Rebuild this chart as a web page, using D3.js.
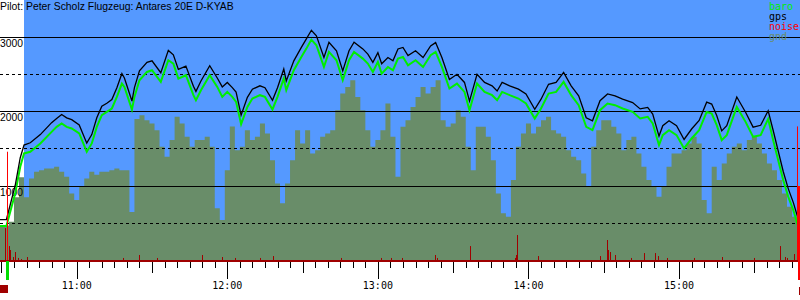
<!DOCTYPE html>
<html>
<head>
<meta charset="utf-8">
<script src="https://cdn.jsdelivr.net/npm/d3@7/dist/d3.min.js"></script>
<style>
  body { margin: 0; background: #fff; }
  svg { display: block; }
</style>
</head>
<body>
<div class="barogramm"></div>
<script>
var title = "Pilot: Peter Scholz Flugzeug: Antares 20E D-KYAB";
var legendNames = ["baro", "gps", "noise", "gnd"];
var hourLabels = ["11:00", "12:00", "13:00", "14:00", "15:00"];
var altLabels = ["1000", "2000", "3000"];
var dashedAlts = [500, 1500, 2500];

// barometric altitude (m)
var baroTime = ["10:29","10:32","10:35:30","10:37:30","10:39","10:41:30","10:45:30","10:50","10:52","10:54",
    "10:56","10:58","11:01","11:04","11:06","11:08","11:10","11:12","11:14","11:16",
    "11:18","11:19","11:22","11:23","11:25","11:28","11:30","11:33:30","11:36:30","11:38:30",
    "11:40:30","11:43:30","11:46:30","11:47:30","11:49:30","11:53","11:56","11:58","12:00","12:02",
    "12:03:30","12:05:30","12:08","12:10","12:13","12:15","12:18","12:20","12:22:30","12:23:30",
    "12:26:30","12:29:30","12:31:30","12:33:30","12:35:30","12:38:30","12:40:30","12:43:30","12:46","12:48:30",
    "12:50:30","12:54","12:56","12:58","13:00","13:01:30","13:04","13:06","13:08","13:10",
    "13:12","13:15","13:18","13:21","13:23","13:25:30","13:28:30","13:31:30","13:34:30","13:36:30",
    "13:39:30","13:42:30","13:45:30","13:47:30","13:49:30","13:52:30","13:56","13:59","14:02:30","14:05",
    "14:08","14:11","14:14","14:17","14:20","14:23","14:25:30","14:28:30","14:31:30","14:34:30",
    "14:37:30","14:41:30","14:44:30","14:47:30","14:49:30","14:52","14:53:30","14:56","14:59","15:02",
    "15:05","15:08","15:11","15:13","15:15","15:17","15:19","15:23","15:26:30","15:29:30",
    "15:32:30","15:35:30","15:37:30","15:39:30","15:41:30","15:43:30","15:45:30","15:47:30","15:48:30"];
var baroAlt = [463,463,901,1258,1437,1459,1571,1727,1794,1839,
    1794,1772,1705,1459,1571,1794,1951,1995,2040,2196,
    2375,2330,2027,2196,2420,2531,2554,2397,2688,2643,
    2442,2487,2219,2152,2286,2487,2330,2196,2263,2196,
    2129,1830,2062,2174,2219,2196,2027,2196,2442,2286,
    2554,2733,2844,2965,2889,2598,2800,2688,2420,2688,
    2800,2710,2643,2531,2666,2509,2598,2554,2710,2733,
    2621,2688,2598,2755,2800,2598,2308,2375,2263,2018,
    2375,2263,2219,2152,2263,2219,2174,2107,1906,2040,
    2241,2263,2397,2219,2085,1794,1750,2018,2107,2085,
    2040,1995,1906,1928,1839,1548,1683,1750,1683,1504,
    1638,1750,1995,1973,1817,1615,1683,2062,1861,1660,
    1683,1900,1615,1347,1079,856,677,454,454];

// gps altitude (m), same fixes
var gpsAlt = [550,550,1010,1380,1550,1580,1690,1850,1905,1960,
    1915,1890,1820,1575,1690,1915,2070,2110,2160,2320,
    2510,2450,2140,2320,2545,2660,2680,2520,2820,2760,
    2565,2610,2340,2270,2410,2615,2450,2330,2390,2320,
    2260,1950,2190,2300,2345,2320,2150,2320,2570,2410,
    2680,2860,2975,3090,3015,2725,2930,2815,2545,2815,
    2930,2840,2770,2660,2790,2640,2725,2680,2840,2860,
    2750,2815,2725,2880,2925,2725,2430,2500,2390,2140,
    2500,2390,2345,2275,2390,2345,2300,2235,2030,2165,
    2365,2390,2525,2345,2210,1915,1875,2145,2235,2210,
    2165,2120,2035,2055,1965,1670,1810,1875,1810,1625,
    1765,1880,2125,2100,1945,1740,1810,2195,1990,1790,
    1815,2010,1745,1470,1195,965,780,556,556];

// ground elevation (m), one value every 2 minutes from 10:29
var gndStart = "10:29";
var gndStep = 2;
var gndAlt = [470,470,520,850,1118,850,1100,1190,1210,1236,
    1236,1258,1190,1124,900,811,1000,1100,1191,1150,
    1191,1191,1213,1236,1213,1213,650,1900,1951,1884,
    1839,1750,1526,1392,1616,1928,1839,1660,1526,1616,
    1616,1660,1526,700,543,1213,1800,1481,1526,1750,
    1616,1660,1839,1705,1347,1035,767,1035,1347,1750,
    1571,1750,1437,1481,1660,1705,1750,2018,2241,2330,
    2420,2196,2018,1750,1526,1616,1750,2107,1660,1124,
    1794,1884,2062,2196,2330,2241,2330,2420,1884,1794,
    1839,2018,1928,1526,1213,1794,1794,1660,1347,901,
    633,588,1079,1526,1705,1839,1705,1794,1884,1928,
    1750,1705,1660,1481,1392,1347,1169,990,1526,1750,
    1884,1884,1794,1705,1481,1616,1660,1437,1258,1079,
    990,856,990,1258,1437,1437,1481,1571,1660,1571,
    811,633,1258,1079,1303,1437,1526,1571,1481,1616,
    1660,1571,1437,1303,1213,1079,901,722,588,498,470];

// engine noise level (same vertical units)
var noiseTime = ["10:31:26","10:33:02","10:33:37","10:34:37","10:35:25","10:36:37","10:37:48","10:40:12",
    "11:18:26","11:24:49","11:31:59","11:49:55","11:57:53","12:03:04","12:13:01","12:18:12",
    "12:45:17","13:01:13","13:05:12","13:09:35","13:22:44","13:23:31","13:36:40","13:54:35",
    "13:54:59","13:55:23","14:03:45","14:28:27","14:31:14","14:31:38","14:32:26","14:34:25",
    "14:40:48","14:45:59","14:50:22","14:51:34","14:55:09","15:05:54","15:17:03","15:29:48",
    "15:40:09","15:42:09","15:42:57","15:45:44"];
var noiseVal = [435,194,141,47,114,34,20,47,
    34,74,34,74,47,34,34,60,
    34,34,34,34,74,34,194,34,
    74,342,60,60,275,141,114,74,
    34,100,100,60,34,34,47,34,
    194,47,34,87];

var taskStart = "10:39";
var takeoff = "10:32:14";
var landing = "15:47:00";

function tm(s) {
    var p = s.split(':').map(Number);
    return p[0] * 60 + p[1] + (p[2] || 0) / 60;
}

var width = 800, height = 300;
var svg = d3.select('.barogramm')
    .append('svg')
    .attr('width', width)
    .attr('height', height);

var x = d3.scaleLinear()
    .domain([tm("10:29:26"), tm("15:48:11")])
    .range([0, width]);
var y = d3.scaleLinear()
    .domain([0, 3000])
    .range([260.5, 37]);
var noiseY = y;

var baseY = 260;

// sky
svg.append('rect')
    .attr('x', x(tm(taskStart)))
    .attr('y', 0)
    .attr('width', width - x(tm(taskStart)))
    .attr('height', baseY)
    .attr('fill', '#5599ff');

// ground
var gndData = gndAlt.map(function(v, i){ return { t: tm(gndStart) + i * gndStep, v: v }; });
var gndArea = d3.area()
    .curve(d3.curveStepAfter)
    .x(function(d){ return x(d.t); })
    .y0(baseY)
    .y1(function(d){ return y(d.v); });
svg.append('path')
    .datum(gndData)
    .attr('d', gndArea)
    .attr('fill', '#698d69');

// noise
svg.selectAll('rect.noise')
    .data(noiseTime)
    .enter()
    .append('rect')
    .attr('class', 'noise')
    .attr('x', function(d){ return Math.round(x(tm(d))); })
    .attr('y', function(d, i){ return noiseY(noiseVal[i]); })
    .attr('width', 1)
    .attr('height', function(d, i){ return baseY - noiseY(noiseVal[i]); })
    .attr('fill', '#a00000');

svg.append('rect')
    .attr('x', 0).attr('y', baseY)
    .attr('width', width).attr('height', 2)
    .attr('fill', '#a00000');

// horizontal grid
svg.selectAll('line.grid')
    .data(altLabels)
    .enter()
    .append('line')
    .attr('class', 'grid')
    .attr('x1', 0).attr('x2', width)
    .attr('y1', function(d){ return Math.floor(y(+d)) + 0.5; })
    .attr('y2', function(d){ return Math.floor(y(+d)) + 0.5; })
    .attr('stroke', '#000');

svg.selectAll('line.dash')
    .data(dashedAlts)
    .enter()
    .append('line')
    .attr('class', 'dash')
    .attr('x1', 0).attr('x2', width)
    .attr('y1', function(d){ return Math.floor(y(d)) + 0.5; })
    .attr('y2', function(d){ return Math.floor(y(d)) + 0.5; })
    .attr('stroke', '#000')
    .attr('stroke-dasharray', '3,3');

svg.selectAll('text.alt')
    .data(altLabels)
    .enter()
    .append('text')
    .attr('class', 'alt')
    .attr('x', 0)
    .attr('y', function(d){ return Math.floor(y(+d)) + 10; })
    .style('font', '10.3px "Liberation Sans", Arial, sans-serif')
    .text(function(d){ return d; });

// baro + gps
var line = d3.line()
    .x(function(d){ return x(tm(d[0])); })
    .y(function(d){ return y(d[1]); });

svg.append('path')
    .datum(baroTime.map(function(t, i){ return [t, baroAlt[i]]; }))
    .attr('d', line)
    .attr('fill', 'none')
    .attr('stroke', '#00ee00')
    .attr('stroke-width', 2);

svg.append('path')
    .datum(baroTime.map(function(t, i){ return [t, gpsAlt[i]]; }))
    .attr('d', line)
    .attr('fill', 'none')
    .attr('stroke', '#000')
    .attr('stroke-width', 1.3);

// takeoff / landing markers
svg.append('line')
    .attr('x1', Math.round(x(tm(takeoff))) + 0.5).attr('x2', Math.round(x(tm(takeoff))) + 0.5)
    .attr('y1', y(1460)).attr('y2', baseY)
    .attr('stroke', '#ff0000');
svg.append('rect')
    .attr('x', Math.round(x(tm(takeoff))) - 1).attr('y', baseY + 1)
    .attr('width', 3).attr('height', 19)
    .attr('fill', '#00dd00');
svg.append('rect')
    .attr('x', 0).attr('y', 285)
    .attr('width', 8).attr('height', 8)
    .attr('fill', '#a00000');

svg.append('line')
    .attr('x1', Math.round(x(tm(landing))) + 0.5).attr('x2', Math.round(x(tm(landing))) + 0.5)
    .attr('y1', y(1800)).attr('y2', baseY)
    .attr('stroke', '#ff0000');
svg.append('rect')
    .attr('x', Math.round(x(tm(landing))) + 1).attr('y', y(1000))
    .attr('width', 3).attr('height', 280 - y(1000))
    .attr('fill', '#ff0000');
svg.append('rect')
    .attr('x', Math.round(x(tm(landing))) + 2).attr('y', 287)
    .attr('width', 1).attr('height', 8)
    .attr('fill', '#a00000');

// time axis ticks
var tickMins = d3.range(tm("10:30"), tm("15:50"), 5);
svg.selectAll('line.tick')
    .data(tickMins)
    .enter()
    .append('line')
    .attr('class', 'tick')
    .attr('x1', function(d){ return Math.round(x(d)) + 0.5; })
    .attr('x2', function(d){ return Math.round(x(d)) + 0.5; })
    .attr('y1', baseY + 2)
    .attr('y2', function(d){
        if (d % 60 === 0) return 279;
        if (d % 30 === 0) return 273;
        return 268;
    })
    .attr('stroke', '#000');

svg.selectAll('text.hour')
    .data(hourLabels)
    .enter()
    .append('text')
    .attr('class', 'hour')
    .attr('x', function(d){ return x(tm(d)); })
    .attr('y', 289)
    .attr('text-anchor', 'middle')
    .style('font', '10px "DejaVu Sans Mono", monospace')
    .text(function(d){ return d; });

// title
svg.append('text')
    .attr('x', 0)
    .attr('y', 10)
    .style('font', '10.4px "Liberation Sans", Arial, sans-serif')
    .text(title);

// legend
var legendColors = ['#00ee00', '#000', '#ff0000', '#698d69'];
svg.selectAll('text.legend')
    .data(legendNames)
    .enter()
    .append('text')
    .attr('class', 'legend')
    .attr('x', 769)
    .attr('y', function(d, i){ return 10 + i * 10; })
    .attr('fill', function(d, i){ return legendColors[i]; })
    .style('font', '10px "DejaVu Sans Mono", monospace')
    .text(function(d){ return d; });
</script>
</body>
</html>
